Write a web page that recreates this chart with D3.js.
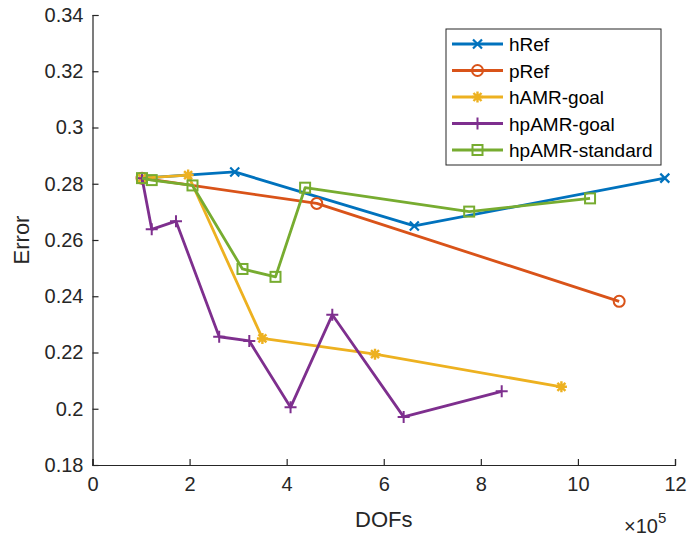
<!DOCTYPE html>
<html>
<head>
<meta charset="utf-8">
<script src="https://cdn.jsdelivr.net/npm/d3@7"></script>
<style>
  body { margin: 0; background: #fff; }
  svg { display: block; font-family: "Liberation Sans", Arial, sans-serif; }
</style>
</head>
<body>
<div id="chart"></div>
<script>
// Veriler (DOFs x1e5, Error)
const seriesNames = ["hRef", "pRef", "hAMR-goal", "hpAMR-goal", "hpAMR-standard"];
const hRefX = [1.02, 2.93, 6.63, 11.79];
const hRefY = [0.2820, 0.2842, 0.2650, 0.2820];
const pRefX = [1.02, 4.62, 10.85];
const pRefY = [0.2820, 0.2730, 0.2382];
const hAmrGoalX = [1.02, 1.97, 3.50, 5.82, 9.66];
const hAmrGoalY = [0.2820, 0.2831, 0.2250, 0.2194, 0.2078];
const hpAmrGoalX = [1.02, 1.22, 1.72, 2.61, 3.23, 4.08, 4.94, 6.41, 8.43];
const hpAmrGoalY = [0.2820, 0.2638, 0.2667, 0.2256, 0.2241, 0.2005, 0.2334, 0.1971, 0.2062];
const hpAmrStdX = [1.02, 1.22, 2.06, 3.09, 3.77, 4.38, 7.76, 10.25];
const hpAmrStdY = [0.2820, 0.2813, 0.2794, 0.2497, 0.2469, 0.2786, 0.2701, 0.2748];
const xTicks = [0, 2, 4, 6, 8, 10, 12];
const yTicks = [0.18, 0.2, 0.22, 0.24, 0.26, 0.28, 0.3, 0.32, 0.34];

const colors = ["#0072BD", "#D95319", "#EDB120", "#7E2F8E", "#77AC30"];
const markers = ["x", "o", "*", "+", "s"];
const xs = [hRefX, pRefX, hAmrGoalX, hpAmrGoalX, hpAmrStdX];
const ys = [hRefY, pRefY, hAmrGoalY, hpAmrGoalY, hpAmrStdY];

const width = 688, height = 536;
const margin = { top: 15, right: 13, bottom: 71, left: 92.5 };
const w = width - margin.left - margin.right;
const h = height - margin.top - margin.bottom;

const svg = d3.select("#chart").append("svg")
    .attr("width", width)
    .attr("height", height);

const g = svg.append("g").attr("transform", `translate(${margin.left},${margin.top})`);

const x = d3.scaleLinear().domain([0, 12]).range([0, w]);
const y = d3.scaleLinear().domain([0.18, 0.34]).range([h, 0]);

// Eksenler
const xAxis = g.append("g")
    .attr("transform", `translate(0,${h})`)
    .call(d3.axisBottom(x).tickValues(xTicks).tickSize(-6).tickPadding(12).tickFormat(d3.format("d")));
const yAxis = g.append("g")
    .call(d3.axisLeft(y).tickValues(yTicks).tickSize(-6).tickPadding(9).tickFormat(d => d3.format("")(+d.toFixed(2))));

[xAxis, yAxis].forEach(a => {
    a.select(".domain").attr("stroke", "#262626").attr("stroke-width", 1.2);
    a.selectAll(".tick line").attr("stroke", "#262626").attr("stroke-width", 1.2);
    a.selectAll("text")
        .style("font-size", "20px")
        .style("fill", "#262626");
});

// Marker çizimi
function drawMarker(sel, type, color) {
    if (type === "o") {
        sel.append("circle").attr("r", 5.5).attr("fill", "none").attr("stroke", color).attr("stroke-width", 2);
    } else if (type === "s") {
        sel.append("rect").attr("x", -5).attr("y", -5).attr("width", 10).attr("height", 10)
            .attr("fill", "none").attr("stroke", color).attr("stroke-width", 2);
    } else if (type === "x") {
        sel.append("path").attr("d", "M-4.5,-4.5L4.5,4.5M-4.5,4.5L4.5,-4.5")
            .attr("stroke", color).attr("stroke-width", 2.2);
    } else if (type === "+") {
        sel.append("path").attr("d", "M-6,0L6,0M0,-6L0,6")
            .attr("stroke", color).attr("stroke-width", 2);
    } else if (type === "*") {
        sel.append("path").attr("d", "M-5.5,0L5.5,0M0,-5.5L0,5.5M-4,-4L4,4M-4,4L4,-4")
            .attr("stroke", color).attr("stroke-width", 2.4);
    }
}

const line = d3.line().x(d => x(d[0])).y(d => y(d[1]));

seriesNames.forEach((name, i) => {
    const pts = xs[i].map((v, j) => [v, ys[i][j]]);
    g.append("path")
        .datum(pts)
        .attr("d", line)
        .attr("fill", "none")
        .attr("stroke", colors[i])
        .attr("stroke-width", 2.8)
        .attr("stroke-linejoin", "round");
    g.selectAll(".m" + i)
        .data(pts)
        .enter()
        .append("g")
        .attr("class", "m" + i)
        .attr("transform", d => `translate(${x(d[0])},${y(d[1])})`)
        .each(function () { drawMarker(d3.select(this), markers[i], colors[i]); });
});

// Eksen başlıkları
svg.append("text")
    .attr("x", margin.left + w / 2)
    .attr("y", 527)
    .attr("text-anchor", "middle")
    .style("font-size", "22px")
    .style("fill", "#262626")
    .text("DOFs");

svg.append("text")
    .attr("transform", `translate(29,${margin.top + h / 2}) rotate(-90)`)
    .attr("text-anchor", "middle")
    .style("font-size", "22px")
    .style("fill", "#262626")
    .text("Error");

// x10^5
const expo = svg.append("text")
    .attr("x", 624)
    .attr("y", 533)
    .style("font-size", "20px")
    .style("fill", "#262626");
expo.append("tspan").text("×10");
expo.append("tspan").attr("dy", -10).style("font-size", "15px").text("5");

// Legend
const lg = svg.append("g").attr("transform", "translate(446,29)");
lg.append("rect")
    .attr("width", 215).attr("height", 136)
    .attr("fill", "#fff").attr("stroke", "#262626").attr("stroke-width", 1);
seriesNames.forEach((name, i) => {
    const row = lg.append("g").attr("transform", `translate(0,${15 + i * 26.5})`);
    row.append("line").attr("x1", 6).attr("x2", 57).attr("y1", 0).attr("y2", 0)
        .attr("stroke", colors[i]).attr("stroke-width", 2.8);
    const m = row.append("g").attr("transform", "translate(31.5,0)");
    drawMarker(m, markers[i], colors[i]);
    row.append("text")
        .attr("x", 63).attr("y", 7)
        .style("font-size", "19px")
        .style("fill", "#000")
        .text(name);
});
</script>
</body>
</html>
